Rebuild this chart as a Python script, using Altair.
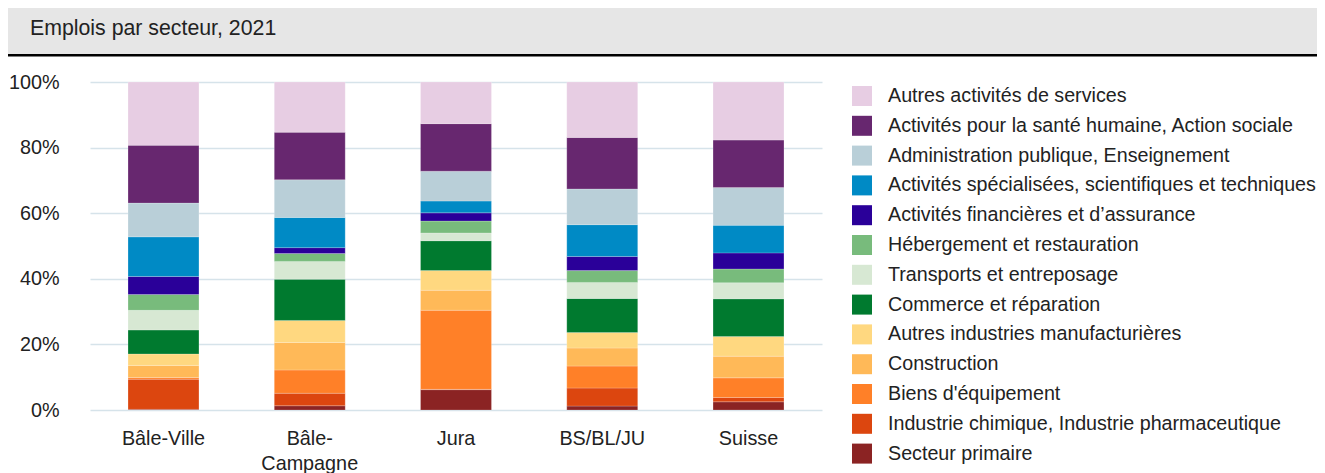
import altair as alt
import pandas as pd

# Sectors, bottom of stack first
sectors = [
    "Secteur primaire",
    "Industrie chimique, Industrie pharmaceutique",
    "Biens d'équipement",
    "Construction",
    "Autres industries manufacturières",
    "Commerce et réparation",
    "Transports et entreposage",
    "Hébergement et restauration",
    "Activités financières et d\u2019assurance",
    "Activités spécialisées, scientifiques et techniques",
    "Administration publique, Enseignement",
    "Activités pour la santé humaine, Action sociale",
    "Autres activités de services",
]
colors = [
    "#8b2323", "#dc460f", "#ff8028", "#ffb958", "#ffd880", "#007a2f",
    "#d7e8d3", "#78bb7c", "#2a0099", "#008ac5", "#b9cfd8", "#67276f", "#e7cde3",
]
regions = ["Bâle-Ville", "Bâle-Campagne", "Jura", "BS/BL/JU", "Suisse"]

# shares in %, same order as sectors
bale_ville    = [0.2, 9.2, 0.5, 3.7, 3.5, 7.3, 6.0, 4.8, 5.5, 12.1, 10.3, 17.6, 19.3]
bale_campagne = [1.3, 3.8, 7.1, 8.4, 6.7, 12.6, 5.4, 2.4, 1.8, 9.2, 11.5, 14.5, 15.3]
jura          = [6.2, 0.1, 24.1, 6.1, 6.0, 9.1, 2.4, 3.6, 2.5, 3.6, 9.1, 14.5, 12.7]
bs_bl_ju      = [1.2, 5.5, 6.7, 5.5, 4.7, 10.4, 4.9, 3.6, 4.3, 9.7, 10.9, 15.7, 16.9]
suisse        = [2.5, 1.3, 6.0, 6.6, 6.0, 11.5, 4.9, 4.2, 4.9, 8.4, 11.5, 14.5, 17.7]

series = [bale_ville, bale_campagne, jura, bs_bl_ju, suisse]
rows = []
for r, vals in zip(regions, series):
    for i, (s, v) in enumerate(zip(sectors, vals)):
        rows.append({"region": r, "secteur": s, "valeur": v, "ordre": i})
df = pd.DataFrame(rows)

FONT = "Liberation Sans"

legend_domain = sectors[::-1]
legend_range = colors[::-1]

bars = alt.Chart(df).mark_bar(stroke="white", strokeWidth=0.4, strokeOpacity=0.5).encode(
    x=alt.X(
        "region:N",
        sort=regions,
        title=None,
        scale=alt.Scale(paddingInner=0.515, paddingOuter=0.26),
        axis=alt.Axis(
            labelAngle=0,
            domain=False,
            ticks=False,
            grid=False,
            labelPadding=18,
            labelFontSize=19.8,
            labelColor="#222222",
            labelFont=FONT,
            labelExpr="length(datum.label) > 10 ? [slice(datum.label, 0, 5), slice(datum.label, 5)] : datum.label",
            labelLineHeight=25,
        ),
    ),
    y=alt.Y(
        "valeur:Q",
        stack="normalize",
        title=None,
        scale=alt.Scale(domain=[0, 1], nice=False),
        axis=alt.Axis(
            values=[0, 0.2, 0.4, 0.6, 0.8, 1.0],
            format=".0%",
            domain=False,
            ticks=False,
            labelPadding=31,
            labelFontSize=19.8,
            labelColor="#222222",
            labelFont=FONT,
            gridColor="#d6e3ea",
            gridWidth=1.5,
        ),
    ),
    color=alt.Color(
        "secteur:N",
        scale=alt.Scale(domain=legend_domain, range=legend_range),
        legend=alt.Legend(
            title=None,
            orient="none",
            legendX=762,
            legendY=4,
            symbolType="square",
            symbolSize=400,
            symbolStrokeWidth=0,
            symbolOpacity=1,
            labelFontSize=19.7,
            labelFont=FONT,
            labelColor="#222222",
            labelOffset=16,
            rowPadding=9.8,
            labelLimit=600,
        ),
    ),
    order=alt.Order("ordre:Q", sort="ascending"),
)

header_df = pd.DataFrame({"titre": ["Emplois par secteur, 2021"]})
header_bg = alt.Chart(header_df).mark_rect(color="#e6e6e6", strokeWidth=0).encode(
    x=alt.value(-82), x2=alt.value(1227), y=alt.value(-74), y2=alt.value(-28)
)
header_line = alt.Chart(header_df).mark_rect(color="black", strokeWidth=0).encode(
    x=alt.value(-82), x2=alt.value(1227), y=alt.value(-28), y2=alt.value(-25.5)
)
header_text = alt.Chart(header_df).mark_text(
    align="left", baseline="middle", fontSize=21.3, font=FONT, color="#222222"
).encode(x=alt.value(-60), y=alt.value(-53), text="titre:N")

chart = (
    alt.layer(header_bg, header_line, header_text, bars)
    .properties(
        width=732,
        height=328,
        background="white",
        autosize=alt.AutoSizeParams(type="none"),
        padding={"left": 82, "top": 74, "right": 495, "bottom": 70},
    )
    .configure(
        view={"stroke": "transparent", "strokeWidth": 0, "strokeOpacity": 0},
        style={"cell": {"stroke": "transparent", "strokeWidth": 0}},
        axisX={"grid": False, "domain": False},
        axisY={"domain": False},
        axisBand={"grid": False, "domain": False},
    )
)

chart.save("out.html", embed_options={"renderer": "svg", "actions": False})
